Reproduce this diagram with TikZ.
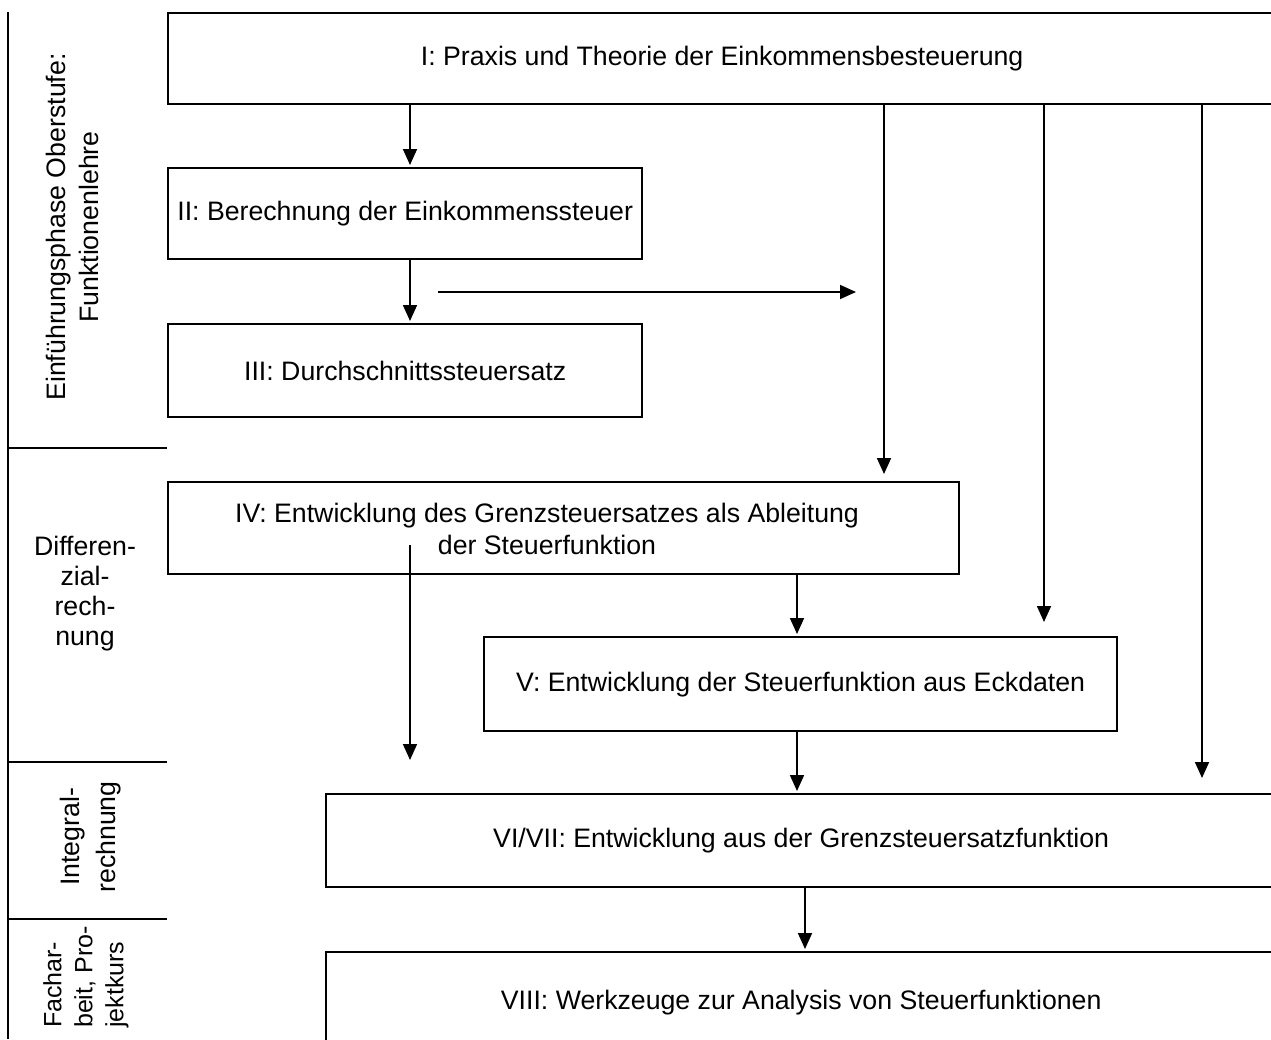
\documentclass[tikz,border=0pt]{standalone}
\usepackage{fontspec}
\setmainfont{Liberation Sans}
\usetikzlibrary{arrows.meta}
\begin{document}
\begin{tikzpicture}[x=1pt,y=-1pt,
  box/.style={draw, line width=2.3pt, inner sep=0pt, anchor=north west},
  txt/.style={font=\fontsize{26.7}{30}\selectfont, inner sep=0pt, align=center},
  rtxt/.style={font=\fontsize{26.7}{33}\selectfont, inner sep=0pt, align=center, rotate=90},
  arr/.style={line width=1.7pt, -{Triangle[length=16pt,width=14pt]}},
  frame/.style={line width=2.3pt}]
\useasboundingbox (0,0) rectangle (1271,1039);
\clip (0,0) rectangle (1271,1039);

% left frame
\draw[frame] (8,12) -- (8,1039);
\draw[frame] (8,448) -- (167,448);
\draw[frame] (8,762) -- (167,762);
\draw[frame] (8,919) -- (167,919);

\node[rtxt] (s1) at (72,227) {Einführungsphase Oberstufe:\\Funktionenlehre};
\node[txt] (s2) at (85,594) {Differen-\\zial-\\rech-\\nung};
\node[rtxt, font=\fontsize{26.7}{36}\selectfont] (s3) at (91,837) {Integral-\\rechnung};
\node[rtxt, align=left, anchor=west, font=\fontsize{25}{31}\selectfont] (s4) at (86,1028) {Fachar-\\beit, Pro-\\jektkurs};

% boxes
\node[box, minimum width=1108, minimum height=91] (b1) at (167,12) {};
\node[box, minimum width=474, minimum height=91] (b2) at (167,167) {};
\node[box, minimum width=474, minimum height=93] (b3) at (167,323) {};
\node[box, minimum width=791, minimum height=92] (b4) at (167,481) {};
\node[box, minimum width=633, minimum height=94] (b5) at (483,636) {};
\node[box, minimum width=950, minimum height=93] (b6) at (325,793) {};
\node[box, minimum width=950, minimum height=100] (b8) at (325,951) {};

\node[txt] (t1) at (b1.center) {I: Praxis und Theorie der Einkommensbesteuerung};
\node[txt] (t2) at (b2.center) {II: Berechnung der Einkommenssteuer};
\node[txt] (t3) at (b3.center) {III: Durchschnittssteuersatz};
\node[txt, font=\fontsize{26.7}{32}\selectfont] (t4) at (547,529) {IV: Entwicklung des Grenzsteuersatzes als Ableitung\\der Steuerfunktion};
\node[txt] (t5) at (b5.center) {V: Entwicklung der Steuerfunktion aus Eckdaten};
\node[txt] (t6) at (b6.center) {VI/VII: Entwicklung aus der Grenzsteuersatzfunktion};
\node[txt] (t8) at (b8.center) {VIII: Werkzeuge zur Analysis von Steuerfunktionen};

% coordinates
\coordinate (xa) at (410,0);
\coordinate (xb) at (797,0);
\coordinate (xc) at (805,0);
\coordinate (x4) at (884,0);
\coordinate (x5) at (1044,0);
\coordinate (x6) at (1202,0);
\coordinate (e4) at (884,474);
\coordinate (e5) at (1044,622);
\coordinate (e6) at (1202,778);
\coordinate (s7) at (410,545);
\coordinate (e7) at (410,760);
\coordinate (h1) at (438,292);
\coordinate (h2) at (856,292);

% arrows
\draw[arr, shorten >=2pt] (b1.south -| xa) -- (b2.north -| xa);
\draw[arr, shorten >=2pt] (b2.south -| xa) -- (b3.north -| xa);
\draw[arr] (h1) -- (h2);
\draw[arr] (b1.south -| x4) -- (e4);
\draw[arr] (b1.south -| x5) -- (e5);
\draw[arr] (b1.south -| x6) -- (e6);
\draw[arr] (s7) -- (e7);
\draw[arr, shorten >=2pt] (b4.south -| xb) -- (b5.north -| xb);
\draw[arr, shorten >=2pt] (b5.south -| xb) -- (b6.north -| xb);
\draw[arr, shorten >=2pt] (b6.south -| xc) -- (b8.north -| xc);
\end{tikzpicture}
\end{document}
